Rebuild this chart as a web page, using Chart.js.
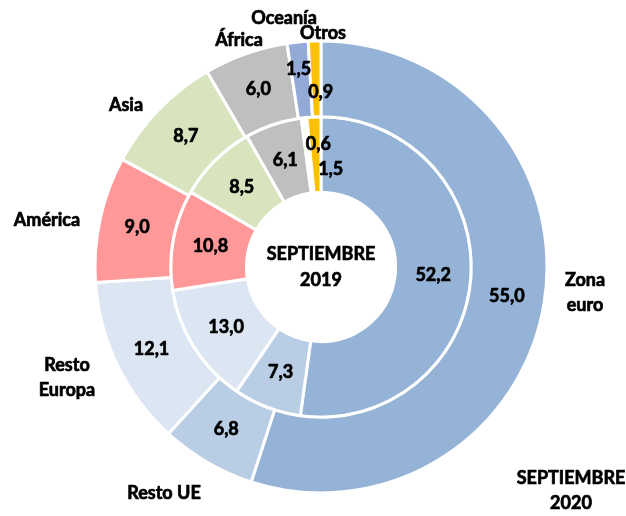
<!DOCTYPE html>
<html>
<head>
<meta charset="utf-8">
<script src="https://cdn.jsdelivr.net/npm/chart.js@4/dist/chart.umd.min.js"></script>
<style>
  html, body { margin: 0; padding: 0; background: #fff; }
  #wrap { width: 626px; height: 516px; }
</style>
</head>
<body>
<div id="wrap"><canvas id="anillos"></canvas></div>
<script>
// datos
const categorias = ['Zona euro', 'Resto UE', 'Resto Europa', 'América', 'Asia', 'África', 'Oceanía', 'Otros'];
const sep2020 = [55.0, 6.8, 12.1, 9.0, 8.7, 6.0, 1.5, 0.9];
const sep2019 = [52.2, 7.3, 13.0, 10.8, 8.5, 6.1, 0.6, 1.5];

const colores2020 = ['#95b3d7', '#b9cde5', '#dce6f2', '#ff9999', '#d7e4bd', '#bfbfbf', '#93a9d6', '#ffc000'];
const colores2019 = ['#95b3d7', '#b9cde5', '#dce6f2', '#ff9999', '#d7e4bd', '#bfbfbf', '#ffffff', '#ffc000'];

const FUENTE = 'bold 18px Lato, "Liberation Sans", sans-serif';

// nombres fuera del anillo (desplazamiento desde el centro)
const posNombres = [
    [264, 26], [-157, 226], [-254, 111], [-274, -47],
    [-195, -162], [-82, -227], [-37, -249], [2, -234]
];
// ajustes para etiquetas pequeñas
const ajuste2020 = { 6: [-3, -11], 7: [5, 13] };
const ajuste2019 = { 6: [10, -11], 7: [15, 14] };

const fmt = v => v.toFixed(1).replace('.', ',');

const etiquetas = {
    id: 'etiquetas',
    afterDatasetsDraw(chart) {
        const c = chart.ctx;
        const arc0 = chart.getDatasetMeta(0).data[0];
        const cx = arc0.x, cy = arc0.y;
        c.save();
        c.font = FUENTE;
        c.fillStyle = '#000';
        c.strokeStyle = '#000';
        c.lineWidth = 0.7;
        c.lineJoin = 'round';
        c.textAlign = 'center';
        c.textBaseline = 'middle';
        const texto = (t, x, y) => { c.fillText(t, x, y); c.strokeText(t, x, y); };

        [[0, ajuste2020], [1, ajuste2019]].forEach(([i, aj]) => {
            const meta = chart.getDatasetMeta(i);
            const vals = chart.data.datasets[i].data;
            meta.data.forEach((a, j) => {
                const p = a.tooltipPosition();
                const d = aj[j] || [0, 0];
                texto(fmt(vals[j]), p.x + d[0], p.y + d[1]);
            });
        });

        categorias.forEach((nombre, j) => {
            const [dx, dy] = posNombres[j];
            const partes = nombre === 'Zona euro' ? ['Zona', 'euro'] :
                           nombre === 'Resto Europa' ? ['Resto', 'Europa'] : [nombre];
            const h = 25;
            partes.forEach((t, k) => {
                texto(t, cx + dx, cy + dy + (k - (partes.length - 1) / 2) * h);
            });
        });

        texto('SEPTIEMBRE', cx, cy - 13);
        texto('2019', cx, cy + 13);
        texto('SEPTIEMBRE', cx + 250, cy + 211);
        texto('2020', cx + 250, cy + 236);
        c.restore();
    }
};

new Chart(document.getElementById('anillos'), {
    type: 'doughnut',
    data: {
        labels: categorias,
        datasets: [
            { label: 'Septiembre 2020', data: sep2020, backgroundColor: colores2020, borderColor: '#fff', borderWidth: 3 },
            { label: 'Septiembre 2019', data: sep2019, backgroundColor: colores2019, borderColor: '#fff', borderWidth: 3 }
        ]
    },
    options: {
        responsive: true,
        maintainAspectRatio: false,
        animation: false,
        radius: 226,
        cutout: '33%',
        layout: { padding: { left: 16, top: 18 } },
        plugins: {
            legend: { display: false },
            tooltip: { enabled: false }
        }
    },
    plugins: [etiquetas]
});
</script>
</body>
</html>
